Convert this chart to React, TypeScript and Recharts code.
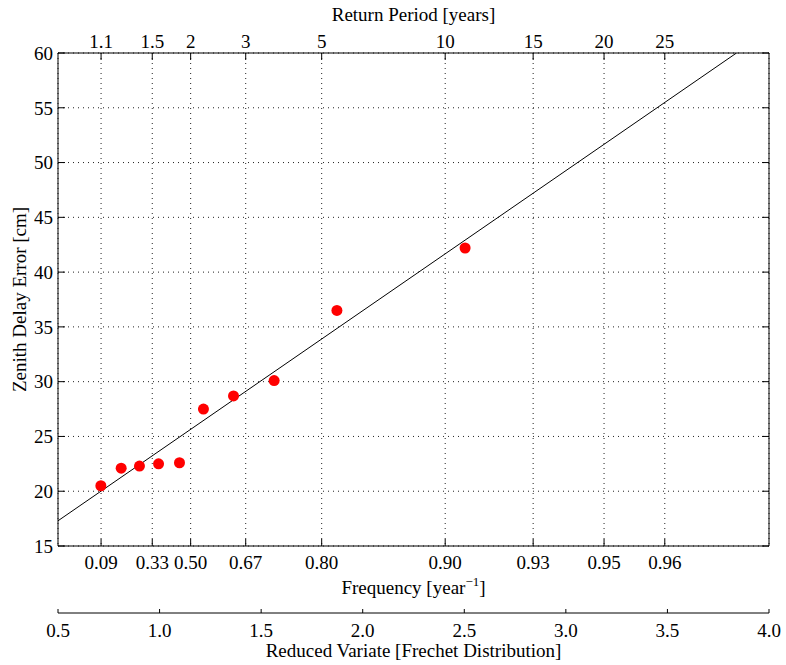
import {
  ComposedChart,
  Scatter,
  Line,
  XAxis,
  YAxis,
  CartesianGrid,
} from "recharts";

// reduced variate (x) and zenith delay error [cm] of the observed maxima
const variate = [0.711, 0.811, 0.901, 0.995, 1.098, 1.216, 1.364, 1.564, 1.873, 2.504];
const delayError = [20.5, 22.1, 22.3, 22.5, 22.6, 27.5, 28.7, 30.1, 36.5, 42.2];

// fitted line end points
const fitVariate = [0.5, 3.84];
const fitDelay = [17.3, 60];

// frequency / return period ticks (placed on the reduced variate scale)
const probTickPos = [0.712, 0.964, 1.153, 1.424, 1.798, 2.406, 2.839, 3.188, 3.487];
const freqLabels = ["0.09", "0.33", "0.50", "0.67", "0.80", "0.90", "0.93", "0.95", "0.96"];
const periodLabels = ["1.1", "1.5", "2", "3", "5", "10", "15", "20", "25"];

const variateTicks = [0.5, 1.0, 1.5, 2.0, 2.5, 3.0, 3.5, 4.0];
const delayTicks = [15, 20, 25, 30, 35, 40, 45, 50, 55, 60];

const points = variate.map((z, i) => ({ z, v: delayError[i] }));
const fit = fitVariate.map((z, i) => ({ z, v: fitDelay[i] }));

const FONT = "'Liberation Serif', 'Times New Roman', serif";
const FS = 19;
const tickStyle = { fill: "#000", fontSize: FS, fontFamily: FONT };
const lineStyle = { stroke: "#000", strokeWidth: 1 };

const titleText = (x: number, y: number, children: any, rotate = false) => (
  <text
    x={x}
    y={y}
    textAnchor="middle"
    transform={rotate ? `rotate(-90 ${x} ${y})` : undefined}
    fontFamily={FONT}
    fontSize={FS}
    fill="#000"
  >
    {children}
  </text>
);

export default function App() {
  return (
    <div style={{ position: "absolute", left: 0, top: 0, background: "#fff" }}>
      <ComposedChart
        width={786}
        height={665}
        margin={{ top: 0, right: 0, bottom: 0, left: 0 }}
      >
        <CartesianGrid
          xAxisId="freq"
          yAxisId="left"
          stroke="#222"
          strokeDasharray="1 4"
        />
        <XAxis
          xAxisId="top"
          orientation="top"
          dataKey="z"
          type="number"
          domain={[0.5, 4]}
          allowDataOverflow
          ticks={probTickPos}
          interval={0}
          height={53}
          tickSize={-7}
          tickMargin={12}
          tick={tickStyle}
          axisLine={lineStyle}
          tickLine={lineStyle}
          tickFormatter={(v: number) => periodLabels[probTickPos.indexOf(v)]}
          label={{
            content: ({ viewBox }: any) =>
              titleText(viewBox.x + viewBox.width / 2, 21, "Return Period [years]"),
          }}
        />
        <XAxis
          xAxisId="freq"
          orientation="bottom"
          dataKey="z"
          type="number"
          domain={[0.5, 4]}
          allowDataOverflow
          ticks={probTickPos}
          interval={0}
          height={67}
          tickSize={-7}
          tickMargin={17}
          tick={tickStyle}
          axisLine={lineStyle}
          tickLine={lineStyle}
          tickFormatter={(v: number) => freqLabels[probTickPos.indexOf(v)]}
          label={{
            content: ({ viewBox }: any) =>
              titleText(
                viewBox.x + viewBox.width / 2,
                594,
                <>
                  Frequency [year
                  <tspan dy={-8} fontSize={13}>
                    −1
                  </tspan>
                  <tspan dy={8}>]</tspan>
                </>
              ),
          }}
        />
        <XAxis
          xAxisId="variate"
          orientation="bottom"
          dataKey="z"
          type="number"
          domain={[0.5, 4]}
          allowDataOverflow
          ticks={variateTicks}
          interval={0}
          height={52}
          tickSize={-4}
          tickMargin={15}
          tick={tickStyle}
          axisLine={lineStyle}
          tickLine={lineStyle}
          tickFormatter={(v: number) => v.toFixed(1)}
          label={{
            content: ({ viewBox }: any) =>
              titleText(
                viewBox.x + viewBox.width / 2,
                657,
                "Reduced Variate [Frechet Distribution]"
              ),
          }}
        />
        <YAxis
          yAxisId="left"
          orientation="left"
          type="number"
          domain={[15, 60]}
          allowDataOverflow
          ticks={delayTicks}
          interval={0}
          width={58}
          tickSize={-7}
          tickMargin={12}
          tick={tickStyle}
          axisLine={lineStyle}
          tickLine={lineStyle}
          label={{
            content: ({ viewBox }: any) =>
              titleText(26, viewBox.y + viewBox.height / 2, "Zenith Delay Error [cm]", true),
          }}
        />
        <YAxis
          yAxisId="right"
          orientation="right"
          type="number"
          domain={[15, 60]}
          allowDataOverflow
          ticks={delayTicks}
          interval={0}
          width={17}
          tickSize={-7}
          tick={tickStyle}
          axisLine={lineStyle}
          tickLine={lineStyle}
          tickFormatter={() => ""}
        />
        <Line
          xAxisId="freq"
          yAxisId="left"
          data={fit}
          dataKey="v"
          type="linear"
          stroke="#000"
          strokeWidth={1}
          dot={false}
          activeDot={false}
          isAnimationActive={false}
        />
        <Scatter
          xAxisId="variate"
          yAxisId="left"
          data={points}
          dataKey="v"
          fill="#ff0000"
          shape={(p: any) => <circle cx={p.cx} cy={p.cy} r={5.5} fill="#ff0000" />}
          isAnimationActive={false}
        />
      </ComposedChart>
    </div>
  );
}
